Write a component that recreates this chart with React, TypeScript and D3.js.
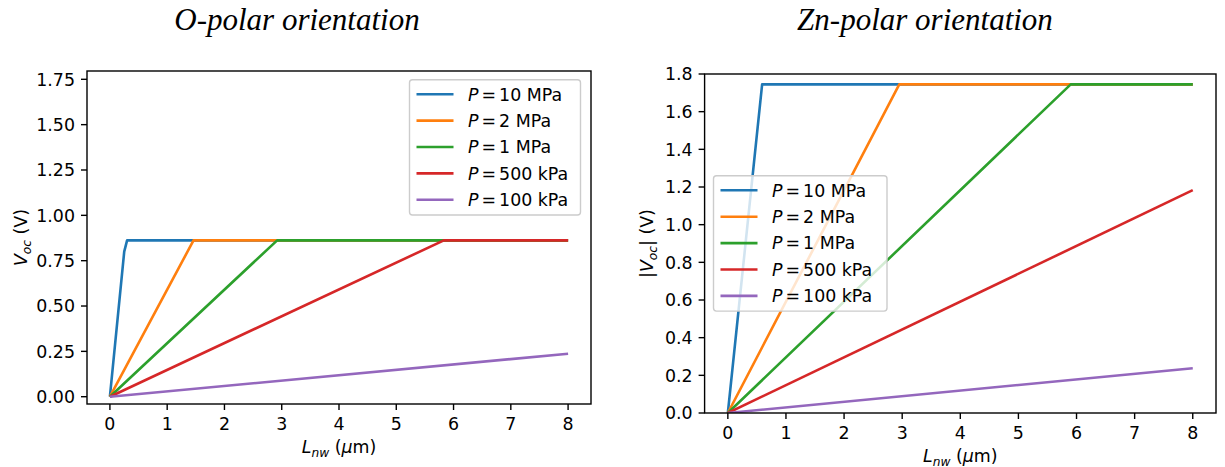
import React from 'react';
import * as d3 from 'd3';

const pressureLabels = ['10 MPa', '2 MPa', '1 MPa', '500 kPa', '100 kPa'];
const seriesColors = ['#1f77b4', '#ff7f0e', '#2ca02c', '#d62728', '#9467bd'];

// O-polar orientation: nanowire length (µm) and Voc (V) per pressure
const oPolarL = [[0, 0.25, 0.3, 8], [0, 1.46, 8], [0, 2.92, 8], [0, 5.83, 8], [0, 8]];
const oPolarV = [[0, 0.8, 0.862, 0.862], [0, 0.862, 0.862], [0, 0.862, 0.862], [0, 0.862, 0.862], [0, 0.237]];

// Zn-polar orientation: nanowire length (µm) and |Voc| (V) per pressure
const znPolarL = [[0, 0.59, 8], [0, 2.95, 8], [0, 5.9, 8], [0, 8], [0, 8]];
const znPolarV = [[0, 1.745, 1.745], [0, 1.745, 1.745], [0, 1.745, 1.745], [0, 1.183], [0, 0.238]];

const xTicks = [0, 1, 2, 3, 4, 5, 6, 7, 8];
const oYTicks = [0, 0.25, 0.5, 0.75, 1.0, 1.25, 1.5, 1.75];
const znYTicks = [0, 0.2, 0.4, 0.6, 0.8, 1.0, 1.2, 1.4, 1.6, 1.8];

const FONT = 'DejaVu Sans';
const FS = 17.4;

type PanelProps = {
  id: string;
  x0: number; x1: number; y0: number; y1: number;
  yDomain: [number, number];
  yTicks: number[];
  yFmt: string;
  L: number[][];
  V: number[][];
  title: string;
  titleX: number;
  abs: boolean;
  legend: { x: number; y: number; w: number; h: number };
};

function Panel(p: PanelProps) {
  const xs = d3.scaleLinear().domain([-0.4, 8.4]).range([p.x0, p.x1]);
  const ys = d3.scaleLinear().domain(p.yDomain).range([p.y1, p.y0]);
  const fmt = d3.format(p.yFmt);
  const line = d3.line<[number, number]>().x(d => xs(d[0])).y(d => ys(d[1]));
  const cx = (p.x0 + p.x1) / 2;
  const cy = (p.y0 + p.y1) / 2;
  const rowY = (i: number) => p.legend.y + 14.5 + i * 26.4;
  return (
    <g>
      <text x={p.titleX} y={30} fontFamily="Liberation Serif" fontStyle="italic" fontSize={31} textAnchor="middle" fill="#000">{p.title}</text>
      <clipPath id={p.id}>
        <rect x={p.x0} y={p.y0} width={p.x1 - p.x0} height={p.y1 - p.y0} />
      </clipPath>
      <g clipPath={`url(#${p.id})`}>
        {p.L.map((ls, i) => (
          <path key={i} d={line(ls.map((l, j) => [l, p.V[i][j]] as [number, number])) || ''} fill="none" stroke={seriesColors[i]} strokeWidth={2.6} strokeLinejoin="round" />
        ))}
      </g>
      {/* spines */}
      <rect x={p.x0} y={p.y0} width={p.x1 - p.x0} height={p.y1 - p.y0} fill="none" stroke="#000" strokeWidth={1.4} />
      {/* x ticks */}
      {xTicks.map(t => (
        <g key={t}>
          <line x1={xs(t)} x2={xs(t)} y1={p.y1} y2={p.y1 + 6} stroke="#000" strokeWidth={1.4} />
          <text x={xs(t)} y={p.y1 + 25.5} fontFamily={FONT} fontSize={FS} textAnchor="middle" fill="#000">{t}</text>
        </g>
      ))}
      {p.yTicks.map(t => (
        <g key={t}>
          <line x1={p.x0 - 6} x2={p.x0} y1={ys(t)} y2={ys(t)} stroke="#000" strokeWidth={1.4} />
          <text x={p.x0 - 12} y={ys(t) + 6.3} fontFamily={FONT} fontSize={FS} textAnchor="end" fill="#000">{fmt(t)}</text>
        </g>
      ))}
      {/* x label */}
      <text x={cx} y={p.y1 + 49} fontFamily={FONT} fontSize={FS} textAnchor="middle" fill="#000">
        <tspan fontStyle="italic">L</tspan>
        <tspan fontStyle="italic" fontSize={12.2} dy={3.5}>nw</tspan>
        <tspan dy={-3.5}> (</tspan>
        <tspan fontStyle="italic">μ</tspan>
        <tspan>m)</tspan>
      </text>
      {/* y label */}
      <text transform={`translate(${p.abs ? p.x0 - 51.5 : p.x0 - 60},${cy}) rotate(-90)`} fontFamily={FONT} fontSize={FS} textAnchor="middle" fill="#000">
        {p.abs ? <tspan>|</tspan> : null}
        <tspan fontStyle="italic">V</tspan>
        <tspan fontStyle="italic" fontSize={12.2} dy={3.5}>oc</tspan>
        <tspan dy={-3.5}>{p.abs ? '| (V)' : ' (V)'}</tspan>
      </text>
      {/* legend */}
      <rect x={p.legend.x} y={p.legend.y} width={p.legend.w} height={p.legend.h} rx={3} fill="#fff" fillOpacity={0.8} stroke="#cccccc" strokeWidth={1.4} />
      {pressureLabels.map((lab, i) => (
        <g key={lab}>
          <line x1={p.legend.x + 7} x2={p.legend.x + 44} y1={rowY(i)} y2={rowY(i)} stroke={seriesColors[i]} strokeWidth={2.6} />
          <text x={p.legend.x + 58.5} y={rowY(i) + 6.3} fontFamily={FONT} fontSize={FS} fill="#000">
            <tspan fontStyle="italic">P</tspan>
            <tspan dx={3}>=</tspan>
            <tspan dx={3}>{lab}</tspan>
          </text>
        </g>
      ))}
    </g>
  );
}

export default function App() {
  return (
    <svg width={1225} height={467} style={{ position: 'absolute', left: 0, top: 0, background: '#fff' }}>
      <rect x={0} y={0} width={1225} height={467} fill="#fff" />
      <Panel id="clipO" x0={87} x1={591} y0={71} y1={404} yDomain={[-0.0402, 1.7958]} yTicks={oYTicks} yFmt=".2f"
        L={oPolarL} V={oPolarV} title="O-polar orientation" titleX={297} abs={false}
        legend={{ x: 409.5, y: 79.7, w: 171, h: 135.3 }} />
      <Panel id="clipZn" x0={704.6} x1={1216} y0={74} y1={413} yDomain={[0, 1.8]} yTicks={znYTicks} yFmt=".1f"
        L={znPolarL} V={znPolarV} title="Zn-polar orientation" titleX={925} abs={true}
        legend={{ x: 713.5, y: 175.8, w: 173.5, h: 135.3 }} />
    </svg>
  );
}
